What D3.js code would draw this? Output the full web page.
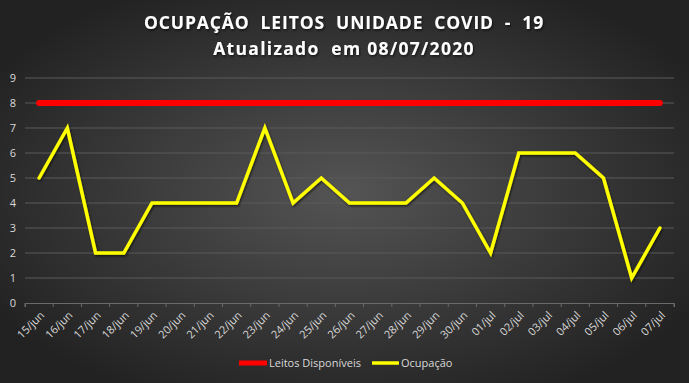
<!DOCTYPE html>
<html><head><meta charset="utf-8">
<script src="https://cdn.jsdelivr.net/npm/d3@7/dist/d3.min.js"></script>
<style>html,body{margin:0;padding:0;background:#2b2b2b;}svg{display:block;}</style>
</head><body>
<script>
const categories = ["15/jun","16/jun","17/jun","18/jun","19/jun","20/jun","21/jun","22/jun","23/jun","24/jun","25/jun","26/jun","27/jun","28/jun","29/jun","30/jun","01/jul","02/jul","03/jul","04/jul","05/jul","06/jul","07/jul"];
const leitosDisponiveis = [8,8,8,8,8,8,8,8,8,8,8,8,8,8,8,8,8,8,8,8,8,8,8];
const ocupacao = [5,7,2,2,4,4,4,4,7,4,5,4,4,4,5,4,2,6,6,6,5,1,3];
const yTicks = [0,1,2,3,4,5,6,7,8,9];
const seriesNames = ["Leitos Disponíveis","Ocupação"];
const titleLines = ["OCUPAÇÃO  LEITOS  UNIDADE  COVID  -  19","Atualizado  em 08/07/2020"];

const W = 689, H = 383;
const svg = d3.select("body").append("svg").attr("width", W).attr("height", H);
const defs = svg.append("defs");
const rg = defs.append("radialGradient").attr("id","bg").attr("cx","50%").attr("cy","50%").attr("r","60%");
rg.append("stop").attr("offset","0%").attr("stop-color","#545454");
rg.append("stop").attr("offset","100%").attr("stop-color","#222222");
const f = defs.append("filter").attr("id","sh").attr("x","-10%").attr("y","-10%").attr("width","120%").attr("height","120%");
f.append("feDropShadow").attr("dx",1).attr("dy",1.5).attr("stdDeviation",1).attr("flood-color","#000").attr("flood-opacity",0.6);
svg.append("rect").attr("width",W).attr("height",H).attr("fill","url(#bg)");

const font = "'Open Sans', 'DejaVu Sans', sans-serif";
const pLeft = 25, pRight = 674, pTop = 78, pBottom = 303;
const x = d3.scaleBand().domain(categories).range([pLeft, pRight]);
const y = d3.scaleLinear().domain([0, 9]).range([pBottom, pTop]);

// title
svg.append("g").selectAll("text").data(titleLines).join("text")
  .attr("x", 344).attr("y", (d,i)=> 29 + i*26)
  .attr("text-anchor","middle").attr("fill","#ffffff")
  .attr("font-family", font).attr("font-weight","bold").attr("font-size", 17.5)
  .attr("letter-spacing", (d,i)=> i===0 ? 0.9 : 1.3).attr("filter","url(#sh)")
  .style("white-space","pre").text(d=>d);

// grid
svg.append("g").selectAll("line").data(yTicks.filter(d=>d>0)).join("line")
  .attr("x1", pLeft).attr("x2", pRight).attr("y1", d=>y(d)).attr("y2", d=>y(d))
  .attr("stroke","#5a5a5a").attr("stroke-width",1);

// y axis labels
const yAxis = d3.axisLeft(y).tickValues(yTicks).tickSize(0).tickPadding(0);
const gy = svg.append("g").attr("transform", `translate(${pLeft-9},0)`).call(yAxis);
gy.select(".domain").remove();
gy.selectAll("text").attr("fill","#d9d9d9").attr("font-family",font).attr("font-size",11);

// x axis
const xAxis = d3.axisBottom(x).tickSizeOuter(0).tickSize(4);
const gx = svg.append("g").attr("transform", `translate(0,${pBottom})`).call(xAxis);
gx.select(".domain").attr("stroke","#6a6a6a");
gx.selectAll(".tick line").remove();
gx.append("g").selectAll("line").data(categories.concat(["_end"])).join("line")
  .attr("x1",(d,i)=> pLeft + i*x.bandwidth()).attr("x2",(d,i)=> pLeft + i*x.bandwidth())
  .attr("y1",0).attr("y2",4).attr("stroke","#6a6a6a");
gx.selectAll(".tick text")
  .attr("fill","#d9d9d9").attr("font-family",font).attr("font-size",11)
  .attr("text-anchor","end").attr("dy","0").attr("y",0)
  .attr("transform","translate(6,13) rotate(-45)");

// lines
const line = d3.line().x((d,i)=> x(categories[i]) + x.bandwidth()/2).y(d=>y(d));
svg.append("path").datum(leitosDisponiveis).attr("d", line)
  .attr("fill","none").attr("stroke","#ff0000").attr("stroke-width",6).attr("stroke-linecap","round");
svg.append("path").datum(ocupacao).attr("d", line)
  .attr("fill","none").attr("stroke","#ffff00").attr("stroke-width",3.5)
  .attr("stroke-linejoin","miter").attr("stroke-linecap","round").attr("filter","url(#sh)");

// legend
const legend = svg.append("g");
const lx = [239, 372], lw = [28, 27];
const colors = ["#ff0000","#ffff00"];
const widths = [5, 3.5];
seriesNames.forEach((n,i)=>{
  legend.append("line").attr("x1", lx[i]).attr("x2", lx[i]+lw[i]).attr("y1",363).attr("y2",363)
    .attr("stroke", colors[i]).attr("stroke-width", widths[i]);
  legend.append("text").attr("x", lx[i]+lw[i]+2).attr("y", 367).attr("fill","#d9d9d9")
    .attr("font-family",font).attr("font-size",11).text(n);
});
</script>
</body></html>
